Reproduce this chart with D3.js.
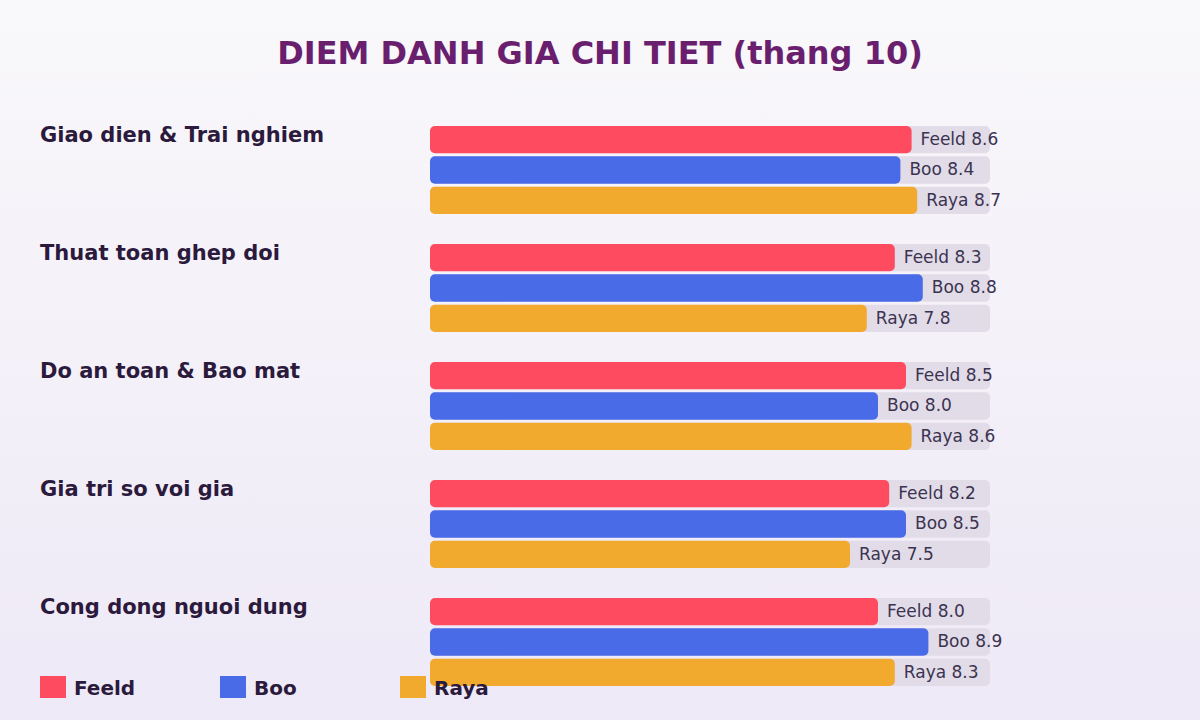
<!DOCTYPE html>
<meta charset="utf-8">
<head>
  <style>
    body { margin: 0; }
    svg { display: block; font-family: "DejaVu Sans", sans-serif; }
    .title { font-size: 32px; font-weight: bold; fill: #6a1f6e; }
    .cat { font-size: 21px; font-weight: bold; fill: #2b1a3c; }
    .val { font-size: 17px; fill: #3b3350; }
    .leg { font-size: 20px; font-weight: bold; fill: #2b1a3c; }
  </style>
  <script src="https://cdn.jsdelivr.net/npm/d3@7"></script>
</head>
<body>
<script>
  var categories = ["Giao dien & Trai nghiem", "Thuat toan ghep doi", "Do an toan & Bao mat", "Gia tri so voi gia", "Cong dong nguoi dung"]
    , apps = ["Feeld", "Boo", "Raya"]
    , feeld = [8.6, 8.3, 8.5, 8.2, 8.0]
    , boo = [8.4, 8.8, 8.0, 8.5, 8.9]
    , raya = [8.7, 7.8, 8.6, 7.5, 8.3]
    , colors = ["#ff4b5f", "#4a6be8", "#f2aa2e"]
    , width = 1200
    , height = 720
    ;

  var series = [feeld, boo, raya];

  var svg = d3.select("body").append("svg")
      .attr("width", width)
      .attr("height", height);

  // background gradient
  var grad = svg.append("defs").append("linearGradient")
      .attr("id", "bg").attr("x1", 0).attr("y1", 0).attr("x2", 0).attr("y2", 1);
  grad.append("stop").attr("offset", "0%").attr("stop-color", "#f9f8fa");
  grad.append("stop").attr("offset", "100%").attr("stop-color", "#eee9f7");
  svg.append("rect").attr("width", width).attr("height", height).attr("fill", "url(#bg)");

  svg.append("text").attr("class", "title")
      .attr("x", 600).attr("y", 64).attr("text-anchor", "middle")
      .text("DIEM DANH GIA CHI TIET (thang 10)");

  var x = d3.scaleLinear().domain([0, 10]).range([430, 990]);
  var yGroup = d3.scaleBand().domain(categories).range([126, 716]).paddingInner(0).paddingOuter(0);
  var yBar = d3.scaleBand().domain(apps).range([0, 88]).paddingInner(0.1);

  var groups = svg.selectAll(".grp")
      .data(categories)
    .enter().append("g")
      .attr("class", "grp")
      .attr("transform", function(d) { return "translate(0," + yGroup(d) + ")"; });

  groups.append("text").attr("class", "cat")
      .attr("x", 40).attr("y", 16)
      .text(function(d) { return d; });

  var rows = groups.selectAll(".row")
      .data(function(d, i) {
        return apps.map(function(a, j) { return {app: a, v: series[j][i], c: colors[j]}; });
      })
    .enter().append("g")
      .attr("class", "row")
      .attr("transform", function(d) { return "translate(0," + yBar(d.app) + ")"; });

  // track
  rows.append("rect")
      .attr("x", x(0)).attr("width", x(10) - x(0))
      .attr("height", yBar.bandwidth()).attr("rx", 5)
      .attr("fill", "#e1dce8");

  rows.append("rect")
      .attr("x", x(0)).attr("width", function(d) { return x(d.v) - x(0); })
      .attr("height", yBar.bandwidth()).attr("rx", 5)
      .attr("fill", function(d) { return d.c; });

  rows.append("text").attr("class", "val")
      .attr("x", function(d) { return x(d.v) + 9; })
      .attr("y", yBar.bandwidth() / 2 + 5.5)
      .text(function(d) { return d.app + " " + d.v.toFixed(1); });

  // legend
  var leg = svg.selectAll(".legitem")
      .data(apps)
    .enter().append("g")
      .attr("transform", function(d, i) { return "translate(" + (40 + i * 180) + ",676)"; });
  leg.append("rect").attr("width", 26).attr("height", 22)
      .attr("fill", function(d, i) { return colors[i]; });
  leg.append("text").attr("class", "leg")
      .attr("x", 34).attr("y", 19)
      .text(function(d) { return d; });
</script>
</body>
